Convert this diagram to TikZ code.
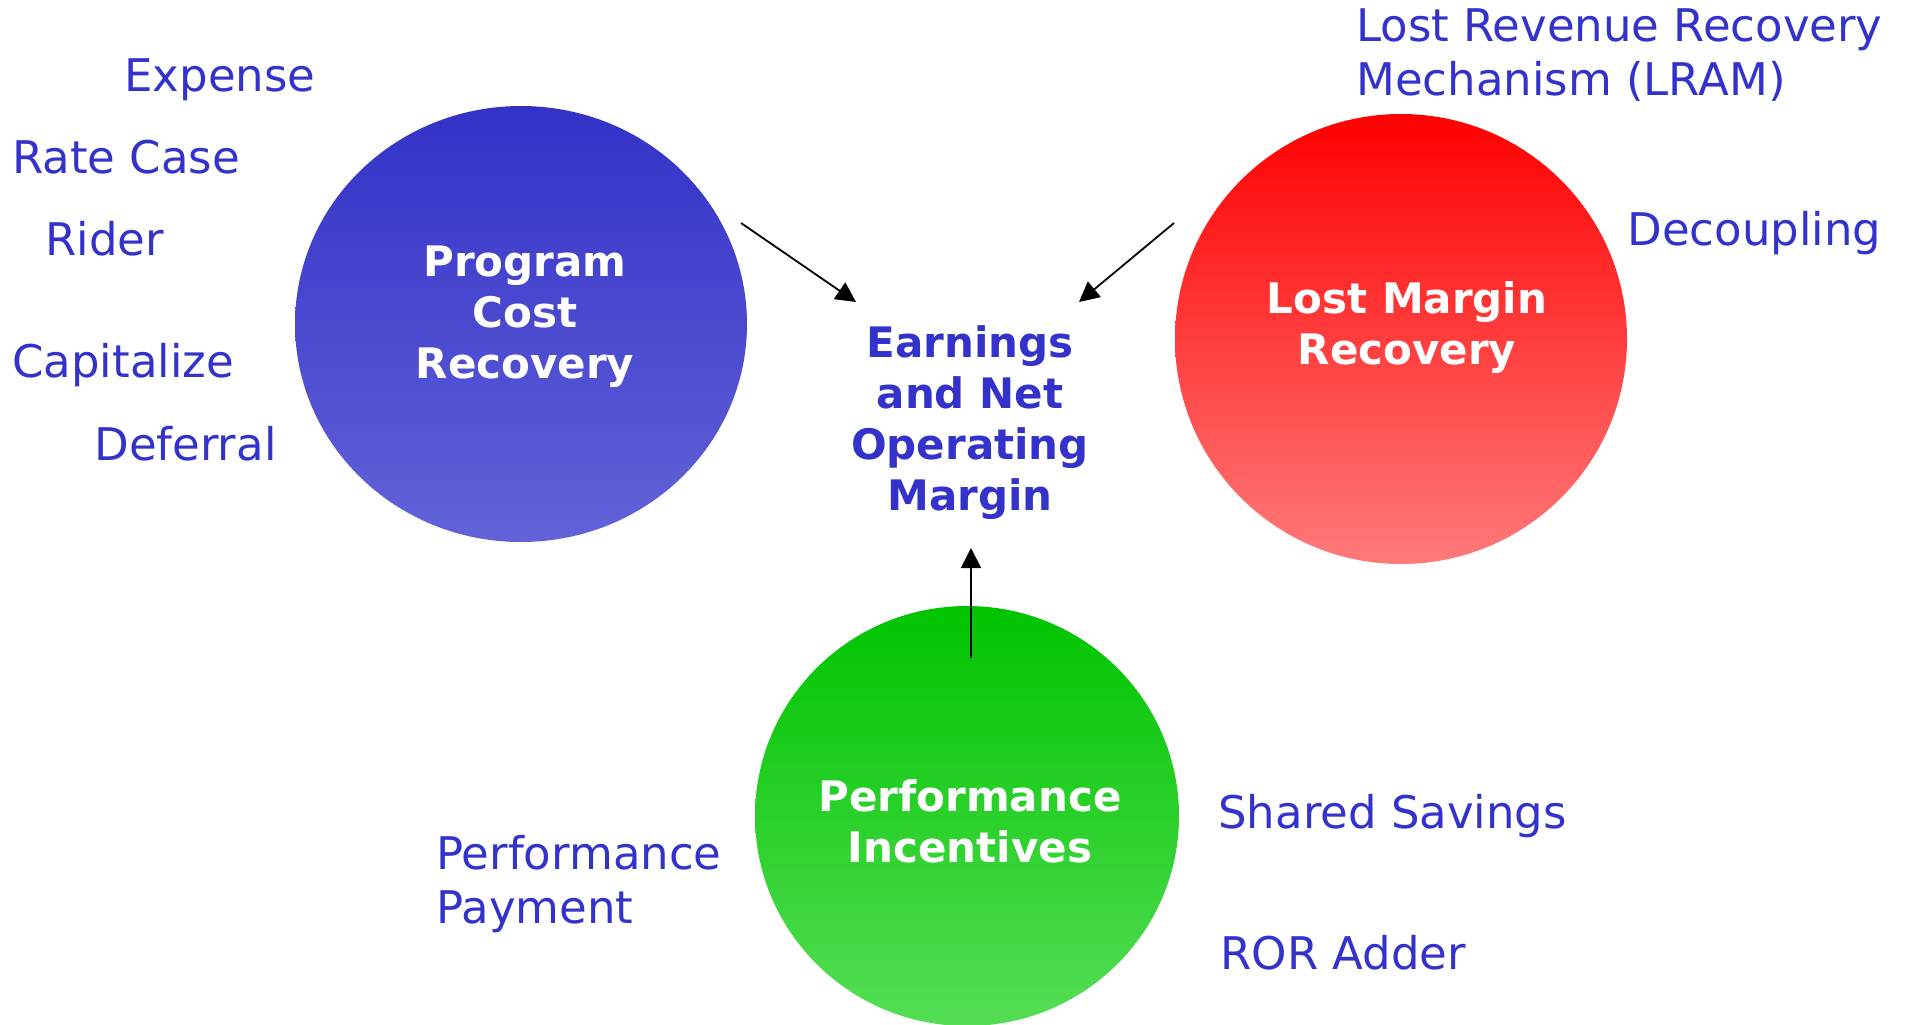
\documentclass[tikz,border=0pt]{standalone}
\usepackage{fontspec}
\setmainfont{DejaVu Sans}
\usetikzlibrary{shapes.geometric,arrows.meta}
\definecolor{txtblue}{HTML}{3333CC}
\definecolor{bluetop}{HTML}{3232C8}
\definecolor{bluebot}{HTML}{6262D8}
\definecolor{redtop}{HTML}{FF0000}
\definecolor{redbot}{HTML}{FF7A7A}
\definecolor{greentop}{HTML}{00C400}
\definecolor{greenbot}{HTML}{55DD55}
\tikzset{
  bubble/.style={ellipse, inner sep=0pt, draw=none},
  lbl/.style={text=txtblue, font=\fontsize{22.5pt}{27pt}\selectfont, inner sep=0pt, anchor=west, align=left, text height=17pt, text depth=4pt},
  inlbl/.style={text=white, font=\fontsize{21pt}{25.5pt}\selectfont\bfseries, inner sep=0pt, align=center},
  ctr/.style={text=txtblue, font=\fontsize{21pt}{25.5pt}\selectfont\bfseries, inner sep=0pt, align=center},
  arr/.style={-{Triangle[length=10pt,width=10pt]}, line width=0.9pt, black}
}
\begin{document}
\begin{tikzpicture}[x=0.5pt,y=-0.5pt]
\useasboundingbox (0,0) rectangle (1910,1024);
\fill[white] (0,0) rectangle (1910,1024);
% bubbles
\node[bubble, top color=bluetop, bottom color=bluebot, minimum width=226pt, minimum height=218pt] (blue) at (521,324) {};
\node[bubble, top color=redtop, bottom color=redbot, minimum width=226pt, minimum height=225pt] (red) at (1401,339) {};
\node[bubble, top color=greentop, bottom color=greenbot, minimum width=212pt, minimum height=210pt] (green) at (967,816) {};
% bubble texts
\node[inlbl] (pcr) at (525,317) {Program\\Cost\\Recovery};
\node[inlbl] (lmr) at (1407,328) {Lost Margin\\Recovery};
\node[inlbl] (pin) at (970,821) {Performance\\Incentives};
\node[ctr] (earn) at (970,423) {Earnings\\and Net\\Operating\\Margin};
% side labels
\node[lbl] (expense) at (124,78) {Expense};
\node[lbl] (rate) at (12,160) {Rate Case};
\node[lbl] (rider) at (45,242) {Rider};
\node[lbl] (cap) at (12,364) {Capitalize};
\node[lbl] (def) at (94,447) {Deferral};
\node[lbl, text height=, text depth=] (lram) at (1356,55) {Lost Revenue Recovery\\Mechanism (LRAM)};
\node[lbl] (dec) at (1627,232) {Decoupling};
\node[lbl] (shared) at (1218,815) {Shared Savings};
\node[lbl] (ror) at (1220,956) {ROR Adder};
\node[lbl, text height=, text depth=] (pp) at (436,884) {Performance\\Payment};
% arrows
\coordinate (a1s) at (741,223);
\coordinate (a1e) at (856,302);
\coordinate (a2s) at (1174,223);
\coordinate (a2e) at (1079,302);
\coordinate (a3s) at (971,658);
\coordinate (a3e) at (971,548);
\draw[arr] (a1s) -- (a1e);
\draw[arr] (a2s) -- (a2e);
\draw[arr] (a3s) -- (a3e);
\end{tikzpicture}
\end{document}
